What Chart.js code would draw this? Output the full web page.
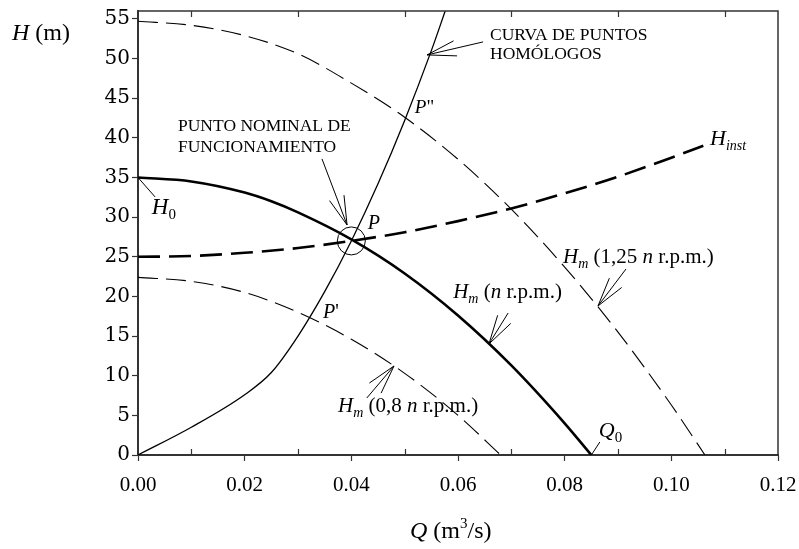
<!DOCTYPE html>
<html>
<head>
<meta charset="utf-8">
<script src="https://cdn.jsdelivr.net/npm/chart.js@4.4.0/dist/chart.umd.min.js"></script>
<style>
  html, body { margin: 0; padding: 0; background: #fff; }
  #wrap { width: 799px; height: 549px; }
</style>
</head>
<body>
<div id="wrap"><canvas id="chart"></canvas></div>
<script>
// Curvas de la bomba: Q (m3/s), H (m)
var qN = [0, 0.01, 0.02, 0.025, 0.03, 0.04, 0.05, 0.06, 0.07, 0.08, 0.085];
var hN = [35, 34.5, 33.1, 32.0, 30.6, 27.2, 22.9, 17.6, 11.3, 4.0, 0];

var q125 = [0, 0.01, 0.02, 0.03, 0.04, 0.05, 0.06, 0.07, 0.08, 0.09, 0.1, 0.1063];
var h125 = [54.7, 54.2, 52.9, 50.6, 46.9, 42.6, 37.3, 31.0, 23.7, 15.5, 6.3, 0];

var q08 = [0, 0.01, 0.02, 0.03, 0.04, 0.05, 0.06, 0.068];
var h08 = [22.4, 21.9, 20.5, 18.0, 14.6, 10.3, 5.0, 0];

var qInst = [0, 0.01, 0.02, 0.03, 0.04, 0.05, 0.06, 0.07, 0.08, 0.09, 0.1, 0.106];
var hInst = [25, 25.1, 25.5, 26.1, 27.0, 28.1, 29.5, 31.1, 33.0, 35.1, 37.5, 39.0];

var qHom = [0, 0.01, 0.02, 0.025, 0.03, 0.035, 0.04, 0.045, 0.05, 0.055, 0.0576];
var hHom = [0, 3.5, 7.6, 10.4, 15.0, 20.6, 27.0, 34.2, 42.2, 51.0, 56];

var xMajor = [0, 0.02, 0.04, 0.06, 0.08, 0.1, 0.12];
var xMinor = [0.01, 0.03, 0.05, 0.07, 0.09, 0.11];
var yTicks = [0, 5, 10, 15, 20, 25, 30, 35, 40, 45, 50, 55];

function pts(qs, hs) {
  return qs.map(function (q, i) { return { x: q, y: hs[i] }; });
}

var serif = '"Liberation Serif", "Times New Roman", serif';
var IT = 'italic 21px ' + serif, RG = '21px ' + serif, SUB = 'italic 14px ' + serif;
var CAP = '17.5px ' + serif;

// textos y flechas en coordenadas de datos
var notes = [
  { x: 0.0075, y: 40.87, parts: [['PUNTO NOMINAL DE', CAP]] },
  { x: 0.0075, y: 38.22, parts: [['FUNCIONAMIENTO', CAP]] },
  { x: 0.066, y: 52.35, parts: [['CURVA DE PUNTOS', CAP]] },
  { x: 0.066, y: 49.96, parts: [['HOMÓLOGOS', CAP]] },
  { x: 0.0519, y: 43.14, parts: [['P', 'italic 19px ' + serif], ['"', '19px ' + serif]] },
  { x: 0.0431, y: 28.51, parts: [['P', 'italic 20px ' + serif]] },
  { x: 0.0347, y: 17.28, parts: [['P', 'italic 20px ' + serif], ["'", '20px ' + serif]] },
  { x: 0.0026, y: 30.4, parts: [['H', 'italic 23px ' + serif], ['0', '15px ' + serif, 5]] },
  { x: 0.0797, y: 24.22, parts: [['H', IT], ['m', SUB, 5], [' (1,25 ', RG], ['n', IT], [' r.p.m.)', RG]] },
  { x: 0.0591, y: 19.8, parts: [['H', IT], ['m', SUB, 5], [' (', RG], ['n', IT], [' r.p.m.)', RG]] },
  { x: 0.0375, y: 5.42, parts: [['H', IT], ['m', SUB, 5], [' (0,8 ', RG], ['n', IT], [' r.p.m.)', RG]] },
  { x: 0.0864, y: 2.27, parts: [['Q', 'italic 22px ' + serif], ['0', '15px ' + serif, 5]] },
  { x: 0.10725, y: 39.1, parts: [['H', 'italic 22px ' + serif], ['inst', 'italic 14px ' + serif, 5]] }
];
var arrows = [
  { from: [0.0345, 37.34], to: [0.0392, 29.01], head: true },
  { from: [0.0647, 52.1], to: [0.0542, 50.46], head: true },
  { from: [0.0915, 23.46], to: [0.08625, 18.8], head: true },
  { from: [0.0694, 17.91], to: [0.0658, 14.0], head: true },
  { from: [0.0429, 7.19], to: [0.048, 11.23], head: true },
  { from: [0.0032, 32.55], to: [0, 35], head: false },
  { from: [0.0866, 1.64], to: [0.085, 0], head: false }
];
var pointP = [0.04, 27];

function drawRuns(ctx, x, y, parts) {
  parts.forEach(function (p) {
    ctx.font = p[1];
    ctx.fillText(p[0], x, y + (p[2] || 0));
    x += ctx.measureText(p[0]).width;
  });
}

var extras = {
  id: 'extras',
  afterDraw: function (chart) {
    var ctx = chart.ctx, a = chart.chartArea;
    var sx = chart.scales.x, sy = chart.scales.y;
    ctx.save();
    ctx.strokeStyle = '#333';
    ctx.lineWidth = 1.5;
    // marco superior y derecho
    ctx.beginPath();
    ctx.moveTo(a.left, a.top); ctx.lineTo(a.right, a.top); ctx.lineTo(a.right, a.bottom);
    ctx.stroke();
    // marcas menores hacia dentro
    ctx.lineWidth = 1.2;
    ctx.beginPath();
    xMinor.forEach(function (v) {
      var px = Math.round(sx.getPixelForValue(v)) + 0.5;
      ctx.moveTo(px, a.bottom); ctx.lineTo(px, a.bottom - 6);
      ctx.moveTo(px, a.top); ctx.lineTo(px, a.top + 6);
    });
    ctx.stroke();

    ctx.strokeStyle = '#000';
    ctx.fillStyle = '#000';
    ctx.lineWidth = 1;
    // círculo en P
    ctx.beginPath();
    ctx.arc(sx.getPixelForValue(pointP[0]), sy.getPixelForValue(pointP[1]), 14, 0, Math.PI * 2);
    ctx.stroke();

    arrows.forEach(function (ar) {
      var x0 = sx.getPixelForValue(ar.from[0]), y0 = sy.getPixelForValue(ar.from[1]);
      var x1 = sx.getPixelForValue(ar.to[0]), y1 = sy.getPixelForValue(ar.to[1]);
      ctx.beginPath();
      ctx.moveTo(x0, y0); ctx.lineTo(x1, y1);
      if (ar.head) {
        var ang = Math.atan2(y0 - y1, x0 - x1);
        [-0.26, 0.26].forEach(function (d) {
          ctx.moveTo(x1, y1);
          ctx.lineTo(x1 + 30 * Math.cos(ang + d), y1 + 30 * Math.sin(ang + d));
        });
      }
      ctx.stroke();
    });

    ctx.textBaseline = 'alphabetic';
    ctx.textAlign = 'left';
    notes.forEach(function (n) {
      drawRuns(ctx, sx.getPixelForValue(n.x), sy.getPixelForValue(n.y), n.parts);
    });

    // títulos de ejes
    drawRuns(ctx, 12, 40, [['H', 'italic 24px ' + serif], [' (m)', '24px ' + serif]]);
    drawRuns(ctx, 410, 538, [['Q', 'italic 24px ' + serif], [' (m', '24px ' + serif],
      ['3', '15px ' + serif, -10], ['/s)', '24px ' + serif]]);
    ctx.restore();
  }
};

var thin = { borderColor: '#000', borderWidth: 1.1, pointRadius: 0, showLine: true, cubicInterpolationMode: 'monotone' };

var chart = new Chart(document.getElementById('chart').getContext('2d'), {
  type: 'scatter',
  data: {
    datasets: [
      Object.assign({ label: 'Hm n', data: pts(qN, hN) }, thin, { borderWidth: 2.6 }),
      Object.assign({ label: 'Hm 1,25n', data: pts(q125, h125), borderDash: [20, 8] }, thin),
      Object.assign({ label: 'Hm 0,8n', data: pts(q08, h08), borderDash: [20, 8] }, thin),
      Object.assign({ label: 'Hinst', data: pts(qInst, hInst) }, thin, { borderWidth: 2.6, borderDash: [22, 9] }),
      Object.assign({ label: 'Homólogos', data: pts(qHom, hHom) }, thin, { borderWidth: 1.3 })
    ]
  },
  options: {
    responsive: true,
    maintainAspectRatio: false,
    animation: false,
    devicePixelRatio: 1,
    layout: { padding: { left: 0, top: 11, right: 21, bottom: 0 } },
    plugins: { legend: { display: false }, tooltip: { enabled: false } },
    scales: {
      x: {
        type: 'linear', min: 0, max: 0.12,
        afterBuildTicks: function (s) { s.ticks = xMajor.map(function (v) { return { value: v }; }); },
        afterFit: function (s) { s.height = 94; s.paddingLeft = 0; s.paddingRight = 0; },
        border: { color: '#333', width: 2 },
        grid: { drawOnChartArea: false, tickLength: 6, tickColor: '#333', tickWidth: 1.2 },
        ticks: {
          color: '#000', padding: 12,
          font: { family: serif, size: 21 },
          callback: function (v) { return v.toFixed(2); }
        }
      },
      y: {
        type: 'linear', min: 0, max: 56,
        afterBuildTicks: function (s) { s.ticks = yTicks.map(function (v) { return { value: v }; }); },
        afterFit: function (s) { s.width = 138; s.paddingTop = 0; s.paddingBottom = 0; },
        border: { color: '#333', width: 2 },
        grid: { drawOnChartArea: false, tickLength: 6, tickColor: '#333', tickWidth: 1.2 },
        ticks: {
          color: '#000', padding: 2,
          font: { family: '"DejaVu Serif", serif', size: 20 },
          callback: function (v) { return String(v); }
        }
      }
    }
  },
  plugins: [extras]
});
</script>
</body>
</html>
